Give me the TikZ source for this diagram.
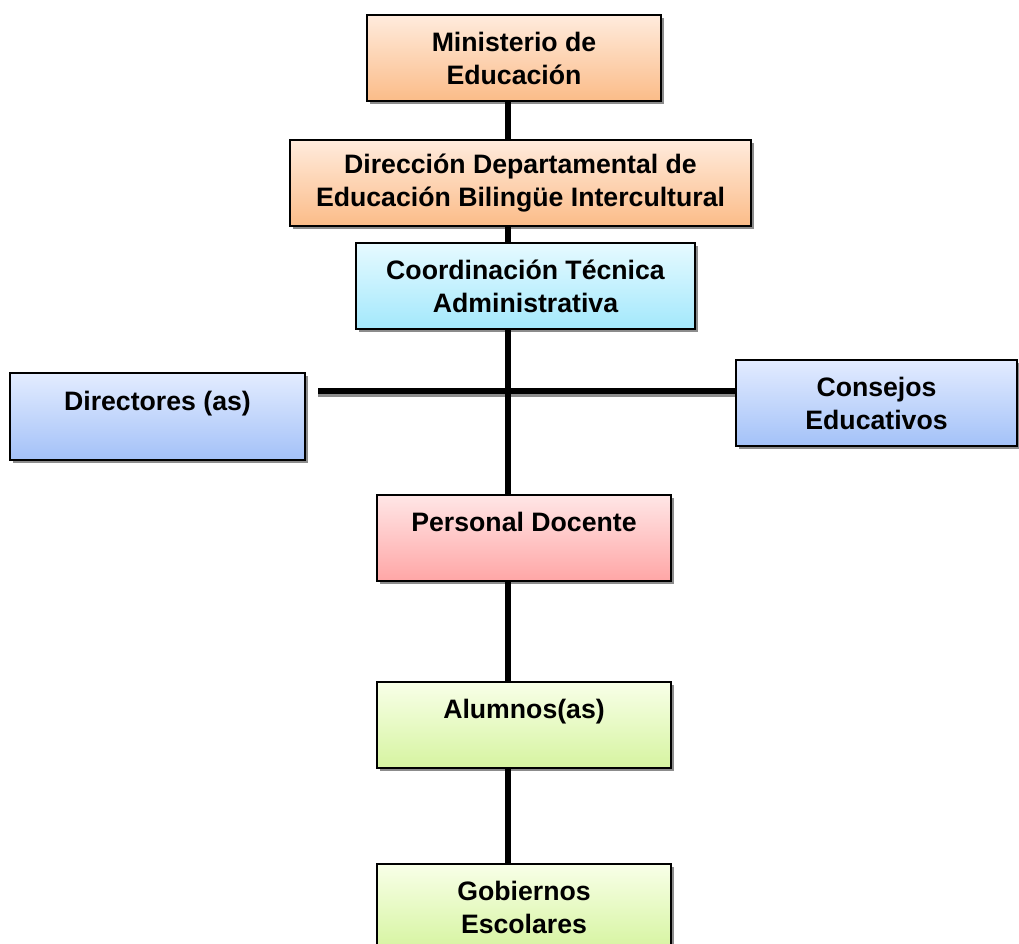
\documentclass[tikz,border=0pt]{standalone}
\usepackage{fontspec}
\setmainfont{Liberation Sans}
\usetikzlibrary{shadows}
\definecolor{orT}{HTML}{FFEBDD}
\definecolor{orB}{HTML}{FBBC88}
\definecolor{cyT}{HTML}{E6FAFF}
\definecolor{cyB}{HTML}{A3E8FC}
\definecolor{blT}{HTML}{E3ECFF}
\definecolor{blB}{HTML}{A3C1F8}
\definecolor{pkT}{HTML}{FFE6E6}
\definecolor{pkB}{HTML}{FFA6A6}
\definecolor{grT}{HTML}{F8FFE8}
\definecolor{grB}{HTML}{D6F4A0}
\definecolor{shd}{HTML}{8C8C8C}
\tikzset{
  box/.style={draw=black, line width=1.1pt, inner sep=0pt, align=center,
    minimum height=64.5pt,
    font=\fontsize{20}{24.75}\selectfont\bfseries,
    drop shadow={shadow xshift=2.3pt, shadow yshift=-2.3pt, opacity=1, fill=shd}},
  orange/.style={box, top color=orT, bottom color=orB},
  cyanbox/.style={box, top color=cyT, bottom color=cyB},
  bluebox/.style={box, top color=blT, bottom color=blB},
  pinkbox/.style={box, top color=pkT, bottom color=pkB},
  greenbox/.style={box, top color=grT, bottom color=grB},
  conn/.style={line width=4.2pt, black},
  connshadow/.style={line width=3pt, shd},
}
\begin{document}
\begin{tikzpicture}[x=0.75pt,y=-0.75pt]
\useasboundingbox (0,0) rectangle (1019,944);
\clip (0,0) rectangle (1019,944);
\coordinate (v) at (508,0);
\coordinate (hl) at (318,391);
% horizontal connector
\draw[connshadow] ([yshift=-3pt]hl) -- ([yshift=-3pt]hl -| 736,0);
\node[orange, minimum width=220.5pt] (min) at (514,58) {Ministerio de\\Educación};
\node[orange, minimum width=345.75pt] (dir) at (520.5,183) {Dirección Departamental de\\Educación Bilingüe Intercultural};
\node[cyanbox, minimum width=254.25pt] (coord) at (525.5,286) {Coordinación Técnica\\Administrativa};
\node[bluebox, minimum width=221.25pt, minimum height=65.25pt] (dirs) at (157.5,416.5) {Directores (as)\\[-8pt]\strut};
\node[bluebox, minimum width=210.75pt] (cons) at (876.5,403) {Consejos\\Educativos};
\node[pinkbox, minimum width=220.5pt] (pers) at (524,538) {Personal Docente\\[-8pt]\strut};
\node[greenbox, minimum width=220.5pt] (alum) at (524,725) {Alumnos(as)\\[-8pt]\strut};
\node[greenbox, minimum width=220.5pt] (gob) at (524,907) {Gobiernos\\Escolares};
% connectors
\draw[conn] (hl) -- (hl -| cons.west);
\draw[conn] (min.south -| v) -- (dir.north -| v);
\draw[conn] (dir.south -| v) -- (coord.north -| v);
\draw[conn] (coord.south -| v) -- (pers.north -| v);
\draw[conn] (pers.south -| v) -- (alum.north -| v);
\draw[conn] (alum.south -| v) -- (gob.north -| v);
\end{tikzpicture}
\end{document}
